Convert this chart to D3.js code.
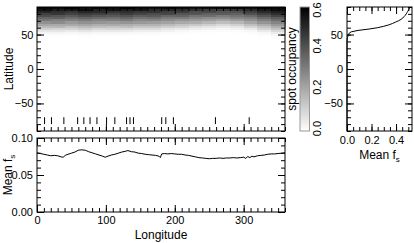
<!DOCTYPE html>
<html lang="en">
  <head>
    <meta charset="UTF-8" />
    <title>Spot occupancy</title>
    <script src="https://cdn.jsdelivr.net/npm/d3@7"></script>
    <style>
      body { margin: 0; background: #fff; }
      svg { display: block; font-family: "Liberation Sans", Arial, sans-serif; font-size: 12px; }
      .frame { fill: none; stroke: #000; stroke-width: 1; }
      .axis path { display: none; }
      .axis line { stroke: #000; }
      .axis text { font-family: "Liberation Sans", Arial, sans-serif; font-size: 11px; fill: #000; }
      .cblabel { font-size: 11px; }
    </style>
  </head>
  <body>
    <script>
      const width = 414;
      const height = 243;

      // occupancy map: 20 deg longitude bins, 3 deg latitude rows (south edge)
      const lonBins = [0, 20, 40, 60, 80, 100, 120, 140, 160, 180, 200, 220, 240, 260, 280, 300, 320, 340];
      const latRows = [87, 84, 81, 78, 75, 72, 69, 66, 63, 60, 57, 54, 51, 48, 45];
      const occupancy = [
        [0.58, 0.57, 0.59, 0.56, 0.58, 0.57, 0.60, 0.57, 0.56, 0.58, 0.57, 0.55, 0.56, 0.57, 0.58, 0.56, 0.59, 0.58],
        [0.56, 0.53, 0.54, 0.57, 0.52, 0.55, 0.53, 0.54, 0.50, 0.51, 0.49, 0.48, 0.45, 0.46, 0.47, 0.50, 0.54, 0.57],
        [0.51, 0.49, 0.47, 0.51, 0.50, 0.48, 0.49, 0.47, 0.48, 0.45, 0.46, 0.42, 0.43, 0.40, 0.41, 0.45, 0.50, 0.53],
        [0.45, 0.47, 0.44, 0.46, 0.45, 0.43, 0.46, 0.44, 0.42, 0.43, 0.40, 0.40, 0.37, 0.38, 0.37, 0.41, 0.45, 0.49],
        [0.42, 0.40, 0.39, 0.42, 0.40, 0.39, 0.41, 0.38, 0.39, 0.36, 0.37, 0.33, 0.34, 0.31, 0.33, 0.35, 0.40, 0.44],
        [0.36, 0.37, 0.34, 0.36, 0.35, 0.34, 0.36, 0.33, 0.34, 0.31, 0.31, 0.29, 0.27, 0.27, 0.29, 0.30, 0.35, 0.38],
        [0.32, 0.30, 0.30, 0.31, 0.29, 0.30, 0.31, 0.28, 0.29, 0.27, 0.25, 0.24, 0.23, 0.21, 0.23, 0.26, 0.30, 0.34],
        [0.26, 0.27, 0.24, 0.26, 0.25, 0.24, 0.25, 0.24, 0.23, 0.22, 0.20, 0.19, 0.17, 0.15, 0.17, 0.21, 0.25, 0.29],
        [0.21, 0.20, 0.20, 0.21, 0.19, 0.20, 0.19, 0.18, 0.18, 0.16, 0.14, 0.13, 0.11, 0.09, 0.11, 0.15, 0.19, 0.24],
        [0.16, 0.17, 0.14, 0.16, 0.15, 0.14, 0.15, 0.13, 0.13, 0.11, 0.10, 0.07, 0.06, 0.05, 0.06, 0.10, 0.14, 0.19],
        [0.11, 0.10, 0.10, 0.11, 0.09, 0.10, 0.09, 0.08, 0.08, 0.06, 0.05, 0.04, 0.03, 0.02, 0.03, 0.05, 0.10, 0.14],
        [0.06, 0.06, 0.05, 0.06, 0.05, 0.05, 0.05, 0.04, 0.04, 0.03, 0.02, 0.01, 0.01, 0.01, 0.01, 0.02, 0.05, 0.09],
        [0.025, 0.025, 0.02, 0.025, 0.02, 0.02, 0.02, 0.017, 0.013, 0.008, 0.006, 0.004, 0.002, 0.001, 0.002, 0.006, 0.02, 0.05],
        [0.008, 0.008, 0.006, 0.008, 0.006, 0.006, 0.006, 0.005, 0.004, 0.002, 0.001, 0, 0, 0, 0, 0.001, 0.006, 0.02],
        [0.002, 0.002, 0.001, 0.002, 0.001, 0.001, 0.001, 0.001, 0, 0, 0, 0, 0, 0, 0, 0, 0.001, 0.006],
      ];

      // longitudes of the short marks near the bottom of the map
      const markLons = [11, 21, 39, 59, 68, 77, 87, 101, 113, 130, 135, 140, 181, 187, 198, 259, 308];
      const markLats = [-80, -70];

      // mean f_s against longitude (lower panel)
      const profileLons = [0, 5, 10, 15, 20, 25, 30, 35, 38, 41, 45, 50, 55, 60, 65, 70, 75, 80, 85, 90, 95, 99, 103, 108, 113, 118, 123, 128, 132, 137, 142, 147, 152, 157, 162, 167, 172, 177, 179, 181, 185, 190, 195, 200, 205, 210, 215, 220, 225, 230, 235, 240, 245, 250, 255, 260, 265, 270, 275, 280, 285, 290, 295, 300, 303, 306, 309, 312, 315, 320, 325, 330, 335, 340, 345, 350, 355, 360];
      const profileFs = [0.08, 0.079, 0.078, 0.077, 0.076, 0.0765, 0.076, 0.0745, 0.074, 0.0765, 0.078, 0.0795, 0.081, 0.0835, 0.084, 0.0835, 0.0815, 0.08, 0.0785, 0.077, 0.0755, 0.074, 0.0755, 0.077, 0.078, 0.0795, 0.081, 0.082, 0.083, 0.0815, 0.081, 0.0795, 0.079, 0.078, 0.0775, 0.077, 0.0765, 0.0755, 0.0735, 0.0785, 0.079, 0.0785, 0.079, 0.0785, 0.078, 0.078, 0.077, 0.0765, 0.0755, 0.0745, 0.0735, 0.073, 0.0725, 0.072, 0.0725, 0.0725, 0.073, 0.0725, 0.073, 0.073, 0.0735, 0.073, 0.0735, 0.074, 0.0725, 0.075, 0.0735, 0.0755, 0.0745, 0.076, 0.0765, 0.077, 0.078, 0.0785, 0.0785, 0.079, 0.0795, 0.08];

      // mean f_s against latitude (right panel)
      const latProfileLats = [-90, 42, 44, 46, 48, 50, 52, 54, 56, 58, 60, 62, 64, 66, 68, 70, 72, 74, 76, 78, 80, 82, 84, 86, 88, 90];
      const latProfileFs = [0, 0, 0.002, 0.005, 0.008, 0.012, 0.018, 0.035, 0.09, 0.18, 0.25, 0.3, 0.34, 0.37, 0.395, 0.42, 0.44, 0.455, 0.465, 0.475, 0.483, 0.49, 0.497, 0.503, 0.51, 0.52];

      const colorTicks = [0, 0.2, 0.4, 0.6];

      const svg = d3
        .select("body")
        .append("svg")
        .attr("width", width)
        .attr("height", height);

      const lon = d3.scaleLinear().domain([0, 360]).range([37, 285]);
      const lat = d3.scaleLinear().domain([-90, 90]).range([131, 7]);
      const fs = d3.scaleLinear().domain([0, 0.1]).range([212, 138]);
      const fsLat = d3.scaleLinear().domain([0, 0.53]).range([347, 412]);
      const gray = d3.scaleLinear().domain([0, 0.6]).range(["#ffffff", "#000000"]).clamp(true);
      const cb = d3.scaleLinear().domain([0, 0.6]).range([131, 7]);

      // ticks on all four sides, pointing inward
      function ticks(x, y, o) {
        const [x0, x1] = x.range();
        const [y0, y1] = y.range();
        const g = svg.append("g");
        const put = (axis, tx, ty) =>
          g.append("g").attr("class", "axis").attr("transform", `translate(${tx},${ty})`).call(axis);
        put(d3.axisBottom(x).tickValues(o.xMinor).tickSize(-4).tickFormat(""), 0, y0);
        put(d3.axisTop(x).tickValues(o.xMinor).tickSize(-4).tickFormat(""), 0, y1);
        put(d3.axisLeft(y).tickValues(o.yMinor).tickSize(-4).tickFormat(""), x0, 0);
        put(d3.axisRight(y).tickValues(o.yMinor).tickSize(-4).tickFormat(""), x1, 0);
        put(d3.axisBottom(x).tickValues(o.xMajor).tickSize(-7).tickPadding(o.xPad)
          .tickFormat(o.xFormat || ""), 0, y0);
        put(d3.axisTop(x).tickValues(o.xMajor).tickSize(-7).tickFormat(""), 0, y1);
        put(d3.axisLeft(y).tickValues(o.yMajor).tickSize(-7).tickPadding(o.yPad)
          .tickFormat(o.yFormat), x0, 0);
        put(d3.axisRight(y).tickValues(o.yMajor).tickSize(-7).tickFormat(""), x1, 0);
        g.append("rect")
          .attr("class", "frame")
          .attr("x", x0)
          .attr("y", y1)
          .attr("width", x1 - x0)
          .attr("height", y0 - y1);
      }

      // occupancy map
      svg
        .append("g")
        .attr("shape-rendering", "crispEdges")
        .selectAll("g")
        .data(occupancy)
        .join("g")
        .each(function (row, i) {
          d3.select(this)
            .selectAll("rect")
            .data(row)
            .join("rect")
            .attr("x", (d, j) => lon(lonBins[j]))
            .attr("width", (d, j) => lon(lonBins[j] + 20) - lon(lonBins[j]) + 0.5)
            .attr("y", lat(latRows[i] + 3))
            .attr("height", lat(latRows[i]) - lat(latRows[i] + 3) + 0.5)
            .attr("fill", (d) => gray(d));
        });

      svg
        .append("g")
        .selectAll("line")
        .data(markLons)
        .join("line")
        .attr("x1", (d) => lon(d))
        .attr("x2", (d) => lon(d))
        .attr("y1", lat(markLats[0]))
        .attr("y2", lat(markLats[1]))
        .attr("stroke", "#000");

      const lonMinor = d3.range(0, 361, 10);
      const latMinor = d3.range(-90, 91, 10);

      ticks(lon, lat, {
        xMinor: lonMinor,
        xMajor: [0, 100, 200, 300],
        yMinor: latMinor,
        yMajor: [-50, 0, 50],
        yFormat: d3.format("d"),
        yPad: 3.5,
        xPad: 5,
      });

      svg
        .append("text")
        .attr("transform", `translate(12.5,${lat(0)}) rotate(-90)`)
        .attr("text-anchor", "middle")
        .text("Latitude");

      // colour bar
      const grad = svg
        .append("defs")
        .append("linearGradient")
        .attr("id", "cbar")
        .attr("x1", 0)
        .attr("y1", 1)
        .attr("x2", 0)
        .attr("y2", 0);
      grad.append("stop").attr("offset", 0).attr("stop-color", gray(0));
      grad.append("stop").attr("offset", 1).attr("stop-color", gray(0.6));

      svg
        .append("rect")
        .attr("x", 300)
        .attr("y", cb(0.6))
        .attr("width", 9.5)
        .attr("height", cb(0) - cb(0.6))
        .attr("fill", "url(#cbar)")
        .attr("stroke", "#999");

      svg
        .append("g")
        .selectAll("text")
        .data(colorTicks)
        .join("text")
        .attr("class", "cblabel")
        .attr("transform", (d) => `translate(321,${Math.max(cb(d) - 2.5, 10)}) rotate(-90)`)
        .attr("text-anchor", "middle")
        .text(d3.format(".1f"));

      svg
        .append("text")
        .attr("transform", `translate(296,${(cb(0) + cb(0.6)) / 2}) rotate(-90)`)
        .attr("text-anchor", "middle")
        .text("spot occupancy");

      // right panel: mean f_s by latitude
      svg
        .append("path")
        .datum(latProfileLats)
        .attr("fill", "none")
        .attr("stroke", "#000")
        .attr("d", d3.line().x((d, i) => fsLat(latProfileFs[i])).y((d) => lat(d)));

      ticks(fsLat, lat, {
        xMinor: d3.range(0, 0.53, 0.05),
        xMajor: [0, 0.2, 0.4],
        xFormat: d3.format(".1f"),
        xPad: 5.5,
        yMinor: latMinor,
        yMajor: [-50, 0, 50],
        yFormat: d3.format("d"),
        yPad: 4,
      });

      const rightTitle = svg
        .append("text")
        .attr("x", 379.5)
        .attr("y", 158.5)
        .attr("text-anchor", "middle")
        .text("Mean f");
      rightTitle.append("tspan").attr("font-size", 8).attr("dy", 3).text("s");

      // lower panel: mean f_s by longitude
      svg
        .append("path")
        .datum(profileLons)
        .attr("fill", "none")
        .attr("stroke", "#000")
        .attr("d", d3.line().x((d) => lon(d)).y((d, i) => fs(profileFs[i])));

      ticks(lon, fs, {
        xMinor: lonMinor,
        xMajor: [0, 100, 200, 300],
        xFormat: d3.format("d"),
        xPad: 4.5,
        yMinor: d3.range(0, 0.101, 0.01),
        yMajor: [0, 0.05, 0.1],
        yFormat: d3.format(".2f"),
        yPad: 4,
      });

      svg
        .append("text")
        .attr("x", lon(180))
        .attr("y", 239)
        .attr("text-anchor", "middle")
        .text("Longitude");

      const lowTitle = svg
        .append("text")
        .attr("transform", `translate(11.5,${fs(0.05)}) rotate(-90)`)
        .attr("text-anchor", "middle")
        .text("Mean f");
      lowTitle.append("tspan").attr("font-size", 8).attr("dy", 3).text("s");
    </script>
  </body>
</html>
